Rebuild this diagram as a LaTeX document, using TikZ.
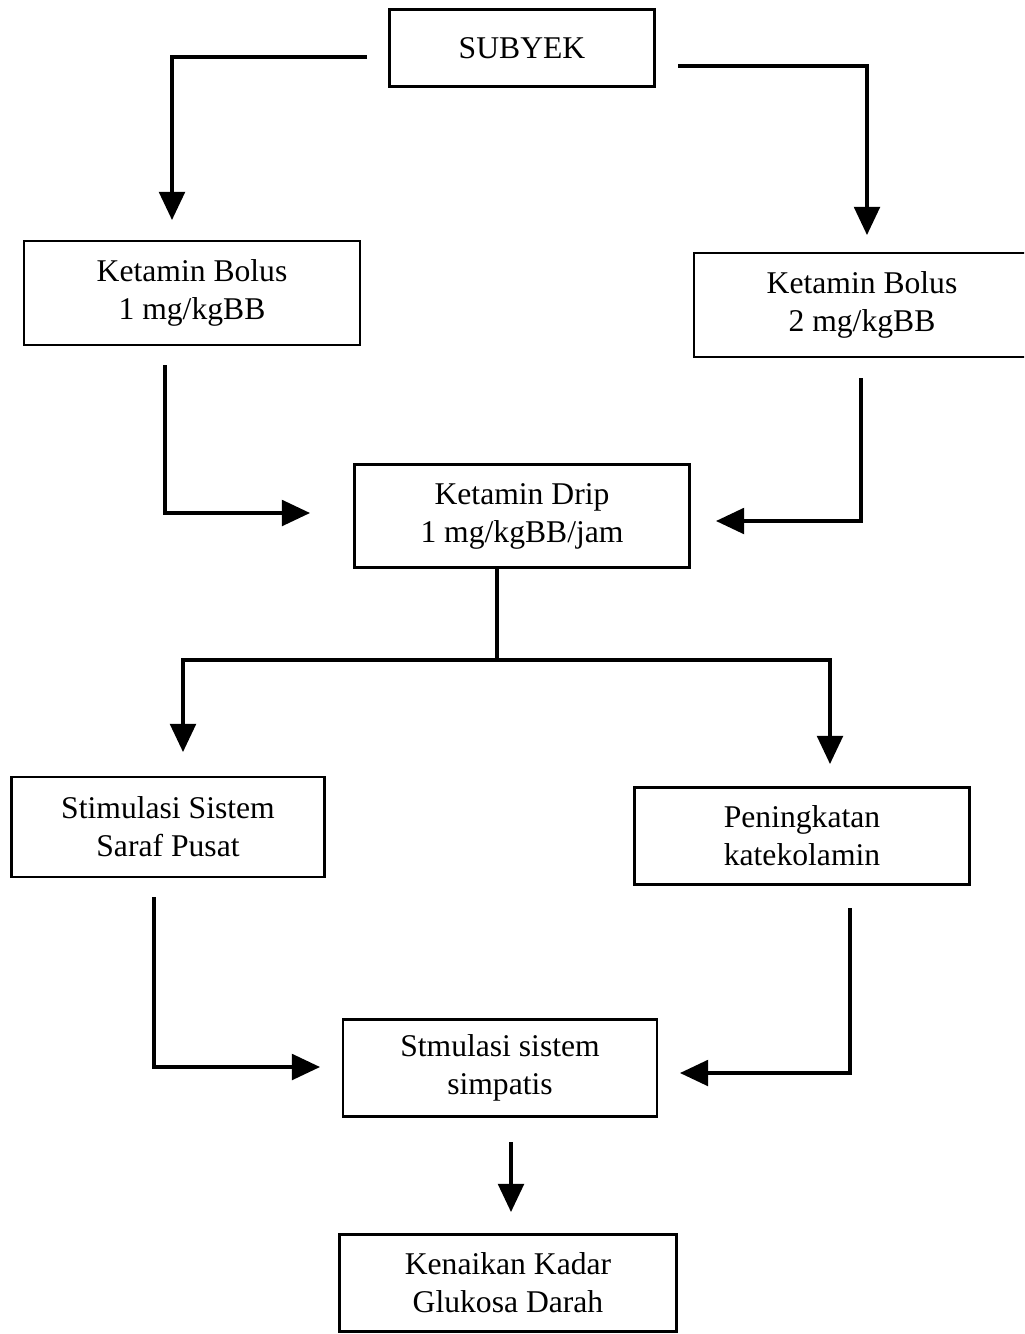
\documentclass[tikz,border=0pt]{standalone}
\usepackage{fontspec}
\setmainfont{Liberation Serif}
\usetikzlibrary{arrows.meta}
\begin{document}
\begin{tikzpicture}[x=0.03cm,y=-0.03cm,
  box/.style 2 args={draw, line width=2pt, minimum width={#1*0.03cm}, minimum height={#2*0.03cm},
    align=center, inner sep=0pt, font=\fontsize{27}{32.5}\selectfont},
  conn/.style={line width=2.6pt},
  arr/.style={conn, -{Triangle[length=24pt,width=22pt]}}]
\useasboundingbox (0,0) rectangle (1024,1334);
\clip (0,0) rectangle (1024,1334);
\fill[white] (0,0) rectangle (1024,1334);
% boxes
\node[box={265}{77}] (subyek) at (522,48) {SUBYEK};
\node[box={336}{104}] (kb1) at (192,293) {Ketamin Bolus\\1 mg/kgBB};
\node[box={336}{104}] (kb2) at (862,305) {Ketamin Bolus\\2 mg/kgBB};
\node[box={335}{103}] (drip) at (522,516) {Ketamin Drip\\1 mg/kgBB/jam};
\node[box={313}{100}] (ssp) at (168,827) {Stimulasi Sistem\\Saraf Pusat};
\node[box={335}{97}] (pk) at (802,836) {Peningkatan\\katekolamin};
\node[box={314}{97}] (ss) at (500,1068) {Stmulasi sistem\\simpatis};
\node[box={337}{97}] (kkg) at (508,1283) {Kenaikan Kadar\\Glukosa Darah};
% connector points
\coordinate (s1) at (367,57);
\coordinate (t1) at (172,220);
\coordinate (s2) at (678,66);
\coordinate (t2) at (867,235);
\coordinate (s3) at (165,365);
\coordinate (t3) at (310,513);
\coordinate (s4) at (861,378);
\coordinate (t4) at (716,521);
\coordinate (j) at (497,660);
\coordinate (t5) at (183,752);
\coordinate (t6) at (830,764);
\coordinate (s7) at (154,897);
\coordinate (t7) at (320,1067);
\coordinate (s8) at (850,908);
\coordinate (t8) at (680,1073);
\coordinate (s9) at (511,1142);
\coordinate (t9) at (511,1212);
% connectors
\draw[arr] (s1) -| (t1);
\draw[arr] (s2) -| (t2);
\draw[arr] (s3) |- (t3);
\draw[arr] (s4) |- (t4);
\draw[conn] (drip.south -| j) -- (j);
\draw[conn] (t5 |- j) -- (t6 |- j);
\draw[arr] (j) -| (t5);
\draw[arr] (j) -| (t6);
\draw[arr] (s7) |- (t7);
\draw[arr] (s8) |- (t8);
\draw[arr] (s9) -- (t9);
\end{tikzpicture}
\end{document}
